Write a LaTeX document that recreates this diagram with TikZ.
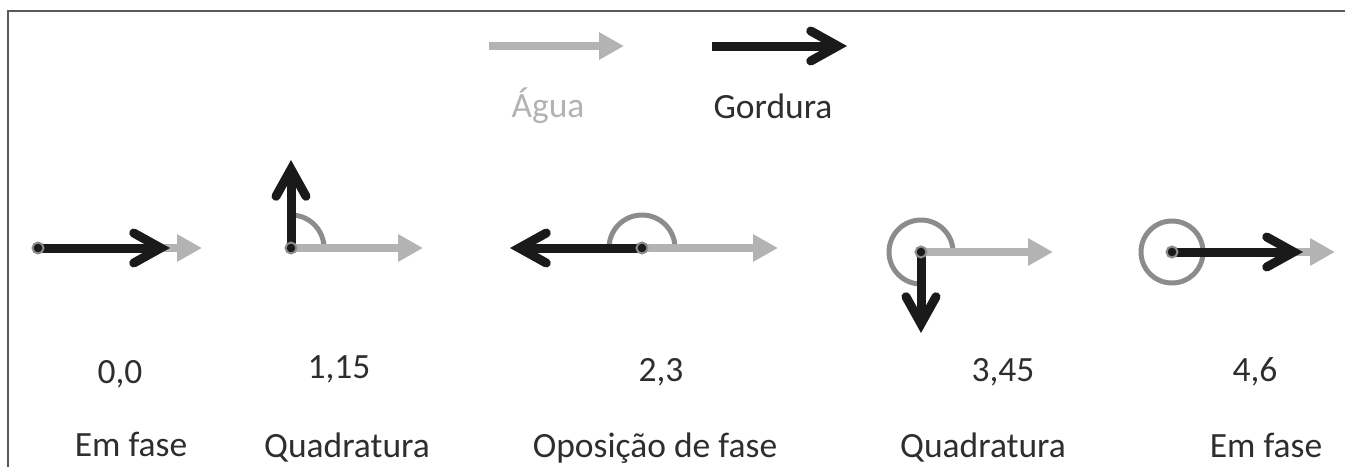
\documentclass[tikz,border=0pt]{standalone}
\usepackage{fontspec}
\setmainfont{Carlito}
\usetikzlibrary{arrows.meta}
\definecolor{blk}{HTML}{1A1A1A}
\definecolor{gry}{HTML}{B3B3B3}
\definecolor{arcg}{HTML}{8C8C8C}
\definecolor{txt}{HTML}{2E2E2E}
\definecolor{frm}{HTML}{5A5A5A}
\begin{document}
\begin{tikzpicture}[x=1pt,y=-1pt,
  grayvec/.style={draw=gry, line width=7.5pt, -{Triangle[length=25pt,width=26pt]}},
  blackvec/.style={draw=blk, line width=9pt, -{Straight Barb[length=27pt,width=30pt,line cap=round,line join=miter]}},
  anglearc/.style={draw=arcg, line width=5pt},
  vecorigin/.style={circle, fill=blk, draw=arcg, line width=2pt, minimum size=11pt, inner sep=0pt},
  lbl/.style={font=\fontsize{35.5}{42}\selectfont, text=txt, anchor=base, inner sep=0pt},
  frameline/.style={draw=frm, line width=1.5pt}]
\useasboundingbox (0,0) rectangle (1345,467);
\draw[frameline] (8,467) -- (8,11) -- (1345,11);

% legend
\coordinate (lgs) at (489,46);
\coordinate (lge) at (624,46);
\coordinate (lbs) at (712,46);
\coordinate (lbe) at (847,46);
\draw[grayvec] (lgs) -- (lge);
\draw[blackvec] (lbs) -- (lbe);
\node[lbl, text=gry] (lagua) at (548,117) {Água};
\node[lbl] (lgord) at (773,118) {Gordura};

% group 1
\coordinate (o1) at (38,248);
\coordinate (g1) at (202,248);
\coordinate (b1) at (170,248);
\draw[grayvec] (o1) -- (g1);
\draw[blackvec] (o1) -- (b1);
\node[vecorigin] (d1) at (o1) {};

% group 2
\coordinate (o2) at (291,248);
\coordinate (g2) at (423,248);
\coordinate (b2) at (291,160);
\draw[anglearc] (o2) ++(33,0) arc[start angle=0,end angle=90,radius=33pt];
\draw[grayvec] (o2) -- (g2);
\draw[blackvec] (o2) -- (b2);
\node[vecorigin] (d2) at (o2) {};

% group 3
\coordinate (o3) at (642,248);
\coordinate (g3) at (778,248);
\coordinate (b3) at (510,248);
\draw[anglearc] (o3) ++(33,0) arc[start angle=0,end angle=180,radius=33pt];
\draw[grayvec] (o3) -- (g3);
\draw[blackvec] (o3) -- (b3);
\node[vecorigin] (d3) at (o3) {};

% group 4
\coordinate (o4) at (921,252);
\coordinate (g4) at (1053,252);
\coordinate (b4) at (921,333);
\draw[anglearc] (o4) ++(32,0) arc[start angle=0,end angle=270,radius=32pt];
\draw[grayvec] (o4) -- (g4);
\draw[blackvec] (o4) -- (b4);
\node[vecorigin] (d4) at (o4) {};

% group 5
\coordinate (o5) at (1172,252);
\coordinate (g5) at (1335,252);
\coordinate (b5) at (1303,252);
\draw[anglearc] (o5) circle[radius=31pt];
\draw[grayvec] (o5) -- (g5);
\draw[blackvec] (o5) -- (b5);
\node[vecorigin] (d5) at (o5) {};

% values
\node[lbl] (v1) at (120,383) {0,0};
\node[lbl] (v2) at (339,378) {1,15};
\node[lbl] (v3) at (661,381) {2,3};
\node[lbl] (v4) at (1003,381) {3,45};
\node[lbl] (v5) at (1255,381) {4,6};

% names
\node[lbl] (n1) at (131,456) {Em fase};
\node[lbl] (n2) at (347,457) {Quadratura};
\node[lbl] (n3) at (655,457) {Oposição de fase};
\node[lbl] (n4) at (983,457) {Quadratura};
\node[lbl] (n5) at (1266,457) {Em fase};
\end{tikzpicture}
\end{document}
